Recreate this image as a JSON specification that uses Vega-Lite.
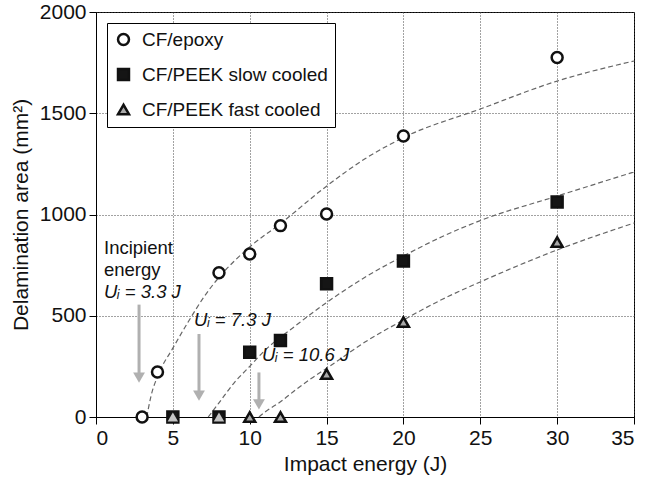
{
  "$schema": "https://vega.github.io/schema/vega-lite/v6.json",
  "width": 538,
  "height": 405,
  "autosize": {"type": "none"},
  "padding": {"left": 96, "top": 12, "right": 14, "bottom": 65},
  "background": "white",
  "config": {
    "font": "Liberation Sans",
    "view": {"stroke": "black", "strokeWidth": 1},
    "axis": {
      "domainColor": "black",
      "tickColor": "black",
      "labelColor": "#111",
      "titleColor": "#111",
      "labelFontSize": 21,
      "titleFontSize": 21,
      "titleFontWeight": "normal",
      "gridColor": "#444",
      "gridDash": [1, 2],
      "gridWidth": 1
    },
    "legend": {
      "title": null,
      "orient": "none",
      "legendX": 11,
      "legendY": 11,
      "fillColor": "white",
      "strokeColor": "black",
      "padding": 7,
      "rowPadding": 14,
      "labelFontSize": 19,
      "labelColor": "#111",
      "labelOffset": 9,
      "labelLimit": 400,
      "symbolSize": 120,
      "symbolStrokeWidth": 2.5
    }
  },
  "datasets": {
    "points": [
      {"E": 3, "A": 0, "series": "CF/epoxy"},
      {"E": 4, "A": 222, "series": "CF/epoxy"},
      {"E": 8, "A": 712, "series": "CF/epoxy"},
      {"E": 10, "A": 805, "series": "CF/epoxy"},
      {"E": 12, "A": 945, "series": "CF/epoxy"},
      {"E": 15, "A": 1002, "series": "CF/epoxy"},
      {"E": 20, "A": 1388, "series": "CF/epoxy"},
      {"E": 30, "A": 1775, "series": "CF/epoxy"},
      {"E": 5, "A": 0, "series": "CF/PEEK slow cooled"},
      {"E": 8, "A": 0, "series": "CF/PEEK slow cooled"},
      {"E": 10, "A": 320, "series": "CF/PEEK slow cooled"},
      {"E": 12, "A": 378, "series": "CF/PEEK slow cooled"},
      {"E": 15, "A": 658, "series": "CF/PEEK slow cooled"},
      {"E": 20, "A": 770, "series": "CF/PEEK slow cooled"},
      {"E": 30, "A": 1062, "series": "CF/PEEK slow cooled"},
      {"E": 10, "A": 0, "series": "CF/PEEK fast cooled"},
      {"E": 12, "A": 0, "series": "CF/PEEK fast cooled"},
      {"E": 15, "A": 212, "series": "CF/PEEK fast cooled"},
      {"E": 20, "A": 469, "series": "CF/PEEK fast cooled"},
      {"E": 30, "A": 864, "series": "CF/PEEK fast cooled"}
    ],
    "faint": [
      {"E": 5, "A": 0},
      {"E": 8, "A": 0}
    ],
    "curves": [
      {"curve": "epoxy", "E": 3.3, "A": 0},
      {"curve": "epoxy", "E": 3.6, "A": 110},
      {"curve": "epoxy", "E": 4, "A": 200},
      {"curve": "epoxy", "E": 5, "A": 340},
      {"curve": "epoxy", "E": 6, "A": 470},
      {"curve": "epoxy", "E": 7, "A": 590},
      {"curve": "epoxy", "E": 8, "A": 690},
      {"curve": "epoxy", "E": 9, "A": 770},
      {"curve": "epoxy", "E": 10, "A": 840},
      {"curve": "epoxy", "E": 12, "A": 955},
      {"curve": "epoxy", "E": 15, "A": 1140},
      {"curve": "epoxy", "E": 17.5, "A": 1275},
      {"curve": "epoxy", "E": 20, "A": 1380},
      {"curve": "epoxy", "E": 25, "A": 1521},
      {"curve": "epoxy", "E": 30, "A": 1659},
      {"curve": "epoxy", "E": 35, "A": 1758},
      {"curve": "slow", "E": 7.3, "A": 0},
      {"curve": "slow", "E": 8, "A": 70},
      {"curve": "slow", "E": 9, "A": 170},
      {"curve": "slow", "E": 10, "A": 250},
      {"curve": "slow", "E": 11, "A": 330},
      {"curve": "slow", "E": 12.8, "A": 440},
      {"curve": "slow", "E": 15, "A": 565},
      {"curve": "slow", "E": 17.5, "A": 690},
      {"curve": "slow", "E": 20, "A": 795},
      {"curve": "slow", "E": 22.5, "A": 890},
      {"curve": "slow", "E": 25, "A": 970},
      {"curve": "slow", "E": 30, "A": 1091},
      {"curve": "slow", "E": 35, "A": 1210},
      {"curve": "fast", "E": 10.6, "A": 0},
      {"curve": "fast", "E": 11, "A": 25},
      {"curve": "fast", "E": 12, "A": 75},
      {"curve": "fast", "E": 13, "A": 135},
      {"curve": "fast", "E": 14, "A": 190},
      {"curve": "fast", "E": 15, "A": 240},
      {"curve": "fast", "E": 17.5, "A": 370},
      {"curve": "fast", "E": 20, "A": 479},
      {"curve": "fast", "E": 22.5, "A": 580},
      {"curve": "fast", "E": 25, "A": 667},
      {"curve": "fast", "E": 30, "A": 825},
      {"curve": "fast", "E": 35, "A": 958}
    ],
    "arrows": [
      {"E": 2.8, "top": 555, "head": 195},
      {"E": 6.7, "top": 410, "head": 105},
      {"E": 10.6, "top": 220, "head": 62}
    ],
    "plainLabels": [
      {"E": 0.52, "A": 835, "text": "Incipient"},
      {"E": 0.52, "A": 726, "text": "energy"}
    ],
    "formulaLabels": [
      {"E": 0.52, "A": 617, "text": "Uᵢ = 3.3 J"},
      {"E": 6.38, "A": 479, "text": "Uᵢ = 7.3 J"},
      {"E": 10.8, "A": 306, "text": "Uᵢ = 10.6 J"}
    ]
  },
  "encoding": {
    "x": {
      "field": "E",
      "type": "quantitative",
      "scale": {"domain": [0, 35], "nice": false, "zero": false},
      "axis": {
        "title": "Impact energy (J)",
        "values": [0, 5, 10, 15, 20, 25, 30, 35],
        "format": "d",
        "tickSize": 7,
        "labelPadding": 3,
        "titlePadding": 5,
        "grid": true
      }
    },
    "y": {
      "field": "A",
      "type": "quantitative",
      "scale": {"domain": [0, 2000], "nice": false},
      "axis": {
        "title": "Delamination area (mm²)",
        "values": [0, 500, 1000, 1500, 2000],
        "format": "d",
        "tickSize": 7,
        "labelPadding": 3,
        "titlePadding": 8,
        "grid": true
      }
    }
  },
  "layer": [
    {
      "data": {"name": "curves"},
      "mark": {"type": "line", "color": "#666", "strokeWidth": 1.2, "strokeDash": [5, 3], "interpolate": "monotone"},
      "encoding": {"detail": {"field": "curve"}}
    },
    {
      "data": {"name": "arrows"},
      "mark": {"type": "rule", "color": "#b0b0b0", "strokeWidth": 3},
      "encoding": {"y": {"field": "top", "type": "quantitative"}, "y2": {"field": "head"}}
    },
    {
      "data": {"name": "arrows"},
      "mark": {"type": "point", "shape": "triangle-down", "filled": true, "color": "#b0b0b0", "size": 140, "opacity": 1},
      "encoding": {"y": {"field": "head", "type": "quantitative"}}
    },
    {
      "data": {"name": "points"},
      "mark": {"type": "point", "filled": true, "strokeWidth": 2.5, "opacity": 1, "size": 120},
      "encoding": {
        "shape": {
          "field": "series",
          "type": "nominal",
          "scale": {"domain": ["CF/epoxy", "CF/PEEK slow cooled", "CF/PEEK fast cooled"], "range": ["circle", "square", "triangle-up"]},
          "legend": {"title": null}
        },
        "fill": {
          "field": "series",
          "type": "nominal",
          "scale": {"domain": ["CF/epoxy", "CF/PEEK slow cooled", "CF/PEEK fast cooled"], "range": ["white", "#151515", "#aaaaaa"]},
          "legend": {"title": null}
        },
        "stroke": {
          "field": "series",
          "type": "nominal",
          "scale": {"domain": ["CF/epoxy", "CF/PEEK slow cooled", "CF/PEEK fast cooled"], "range": ["#111", "#111", "#111"]},
          "legend": {"title": null}
        }
      }
    },
    {
      "data": {"name": "faint"},
      "mark": {"type": "point", "shape": "triangle-up", "filled": true, "color": "#c4c4c4", "size": 110, "opacity": 1}
    },
    {
      "data": {"name": "plainLabels"},
      "mark": {"type": "text", "align": "left", "baseline": "middle", "fontSize": 18.5, "color": "#111"},
      "encoding": {"text": {"field": "text"}}
    },
    {
      "data": {"name": "formulaLabels"},
      "mark": {"type": "text", "align": "left", "baseline": "middle", "fontSize": 18.5, "fontStyle": "italic", "color": "#111"},
      "encoding": {"text": {"field": "text"}}
    }
  ]
}
